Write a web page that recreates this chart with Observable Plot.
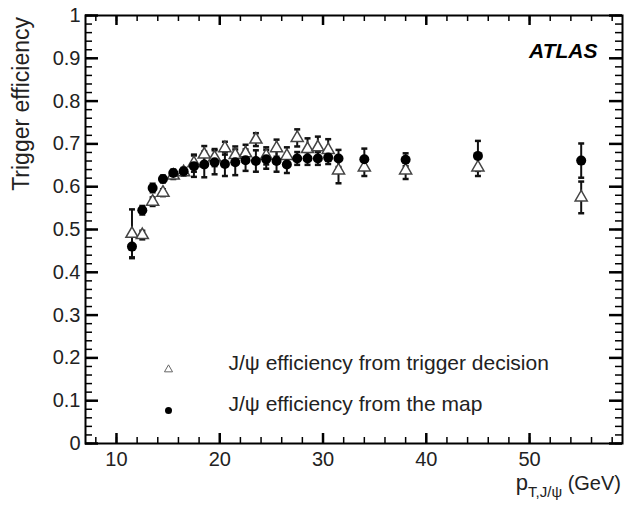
<!DOCTYPE html>
<html>
<head>
<meta charset="utf-8">
<script src="https://cdn.jsdelivr.net/npm/d3@7"></script>
<script src="https://cdn.jsdelivr.net/npm/@observablehq/plot@0.6"></script>
<style>
  html, body { margin: 0; padding: 0; background: #fff; }
  #chart { width: 625px; height: 510px; }
</style>
</head>
<body>
<div id="chart"></div>
<script>
// pT bin centres (GeV)
const ptBins = [11.5, 12.5, 13.5, 14.5, 15.5, 16.5, 17.5, 18.5, 19.5, 20.5, 21.5,
                22.5, 23.5, 24.5, 25.5, 26.5, 27.5, 28.5, 29.5, 30.5, 31.5, 34, 38, 45, 55];
// J/psi efficiency from the map (filled circles)
const effMap = [0.460, 0.545, 0.597, 0.618, 0.632, 0.636, 0.648, 0.652, 0.657, 0.653, 0.657,
                0.662, 0.660, 0.664, 0.660, 0.652, 0.666, 0.666, 0.666, 0.668, 0.666, 0.664, 0.663, 0.672, 0.661];
const errMap = [0.025, 0.010, 0.010, 0.008, 0.008, 0.008, 0.025, 0.030, 0.028, 0.028, 0.030,
                0.025, 0.025, 0.022, 0.025, 0.020, 0.015, 0.015, 0.015, 0.015, 0.020, 0.025, 0.015, 0.035, 0.040];
// J/psi efficiency from trigger decision (open triangles)
const effTrig = [0.490, 0.487, 0.565, 0.586, 0.626, 0.634, 0.655, 0.675, 0.668, 0.690, 0.674,
                 0.678, 0.710, 0.672, 0.690, 0.672, 0.714, 0.688, 0.692, 0.686, 0.638, 0.645, 0.638, 0.645, 0.575];
const errTrig = [0.057, 0.010, 0.010, 0.008, 0.008, 0.008, 0.020, 0.020, 0.020, 0.015, 0.020,
                 0.020, 0.015, 0.020, 0.020, 0.020, 0.020, 0.025, 0.025, 0.025, 0.030, 0.020, 0.020, 0.020, 0.037];

const yMajor = [0, 0.1, 0.2, 0.3, 0.4, 0.5, 0.6, 0.7, 0.8, 0.9, 1];
const yMinor = d3.range(0, 1.0001, 0.02);
const xMajor = [10, 20, 30, 40, 50];
const xMinor = d3.range(8, 59, 2);

const legendLabels = ["J/ψ efficiency from trigger decision", "J/ψ efficiency from the map"];

const mapRows = ptBins.map((x, i) => ({x, y: effMap[i], lo: effMap[i] - errMap[i], hi: effMap[i] + errMap[i]}));
const trigRows = ptBins.map((x, i) => ({x, y: effTrig[i], lo: effTrig[i] - errTrig[i], hi: effTrig[i] + errTrig[i]}));

const cap = { draw(ctx) { ctx.moveTo(-3, 0); ctx.lineTo(3, 0); } };

const W = 625, H = 510, ML = 85, MR = 3, MT = 15, MB = 67;
const PW = W - ML - MR, PH = H - MT - MB;

const plot = Plot.plot({
  width: W, height: H,
  marginLeft: ML, marginRight: MR, marginTop: MT, marginBottom: MB,
  style: { fontFamily: "Liberation Sans, Arial, sans-serif", fontSize: "20px", background: "#fff" },
  x: { domain: [7, 59], axis: null },
  y: { domain: [0, 1], axis: null },
  marks: [
    Plot.axisY(yMajor, { anchor: "left", tickSize: 0, tickPadding: 5, fontSize: 20, fill: "#222", label: null,
      tickFormat: d => String(+d.toFixed(1)) }),
    Plot.axisX(xMajor, { anchor: "bottom", tickSize: 0, tickPadding: 8, fontSize: 20, fill: "#222", label: null,
      tickFormat: d => String(d) }),
    Plot.frame({ stroke: "#000", strokeWidth: 2, fill: "none" }),
    // error bars
    Plot.ruleX(trigRows, { x: "x", y1: "lo", y2: "hi", stroke: "#111", strokeWidth: 2 }),
    Plot.dot(trigRows, { x: "x", y: "lo", symbol: cap, stroke: "#111", strokeWidth: 2.5 }),
    Plot.dot(trigRows, { x: "x", y: "hi", symbol: cap, stroke: "#111", strokeWidth: 2.5 }),
    Plot.ruleX(mapRows, { x: "x", y1: "lo", y2: "hi", stroke: "#111", strokeWidth: 2 }),
    Plot.dot(mapRows, { x: "x", y: "lo", symbol: cap, stroke: "#111", strokeWidth: 2.5 }),
    Plot.dot(mapRows, { x: "x", y: "hi", symbol: cap, stroke: "#111", strokeWidth: 2.5 }),
    // markers
    Plot.dot(trigRows, { x: "x", y: "y", symbol: "triangle", r: 4.5, fill: "#fff", stroke: "#444", strokeWidth: 1.5 }),
    Plot.dot(mapRows, { x: "x", y: "y", symbol: "circle", r: 5, fill: "#000" }),
    // legend
    Plot.dot({length: 1}, { frameAnchor: "bottom-left", dx: 83, dy: -74, symbol: "triangle", r: 3, fill: "none", stroke: "#666", strokeWidth: 1 }),
    Plot.dot({length: 1}, { frameAnchor: "bottom-left", dx: 83, dy: -33, symbol: "circle", r: 3.5, fill: "#000" }),
    Plot.text([legendLabels[0]], { text: d => d, frameAnchor: "bottom-left", dx: 143, dy: -74, textAnchor: "start", fontSize: 21, fill: "#222" }),
    Plot.text([legendLabels[1]], { text: d => d, frameAnchor: "bottom-left", dx: 143, dy: -33, textAnchor: "start", fontSize: 21, fill: "#222" }),
    // ATLAS label
    Plot.text(["ATLAS"], { text: d => d, frameAnchor: "top-right", dx: -25, dy: 28, textAnchor: "end", fontSize: 21, fontWeight: "bold", fontStyle: "italic", fill: "#000" }),
    // inward ticks (ROOT style), drawn last so nothing covers them
    Plot.tickY(yMinor, { y: d => d, insetRight: PW - 7, stroke: "#000", strokeWidth: 1.5 }),
    Plot.tickY(yMajor, { y: d => d, insetRight: PW - 13, stroke: "#000", strokeWidth: 2.5 }),
    Plot.tickY(yMinor, { y: d => d, insetLeft: PW - 7, stroke: "#000", strokeWidth: 1.5 }),
    Plot.tickY(yMajor, { y: d => d, insetLeft: PW - 13, stroke: "#000", strokeWidth: 2.5 }),
    Plot.tickX(xMinor, { x: d => d, insetTop: PH - 6, stroke: "#000", strokeWidth: 1.5 }),
    Plot.tickX(xMajor, { x: d => d, insetTop: PH - 10, stroke: "#000", strokeWidth: 2.5 }),
    Plot.tickX(xMinor, { x: d => d, insetBottom: PH - 6, stroke: "#000", strokeWidth: 1.5 }),
    Plot.tickX(xMajor, { x: d => d, insetBottom: PH - 10, stroke: "#000", strokeWidth: 2.5 })
  ]
});

const svg = d3.select(plot);
svg.append("text")
  .attr("transform", "translate(29,17) rotate(-90)")
  .attr("text-anchor", "end").attr("font-size", 23).attr("fill", "#222")
  .text("Trigger efficiency");
const xt = svg.append("text")
  .attr("x", 621).attr("y", 490)
  .attr("text-anchor", "end").attr("font-size", 22).attr("fill", "#222");
xt.append("tspan").text("p");
xt.append("tspan").attr("font-size", 15).attr("dy", 7).text("T,J/ψ");
xt.append("tspan").attr("dy", -7).attr("font-size", 20).text(" (GeV)");

document.getElementById("chart").append(plot);
</script>
</body>
</html>
